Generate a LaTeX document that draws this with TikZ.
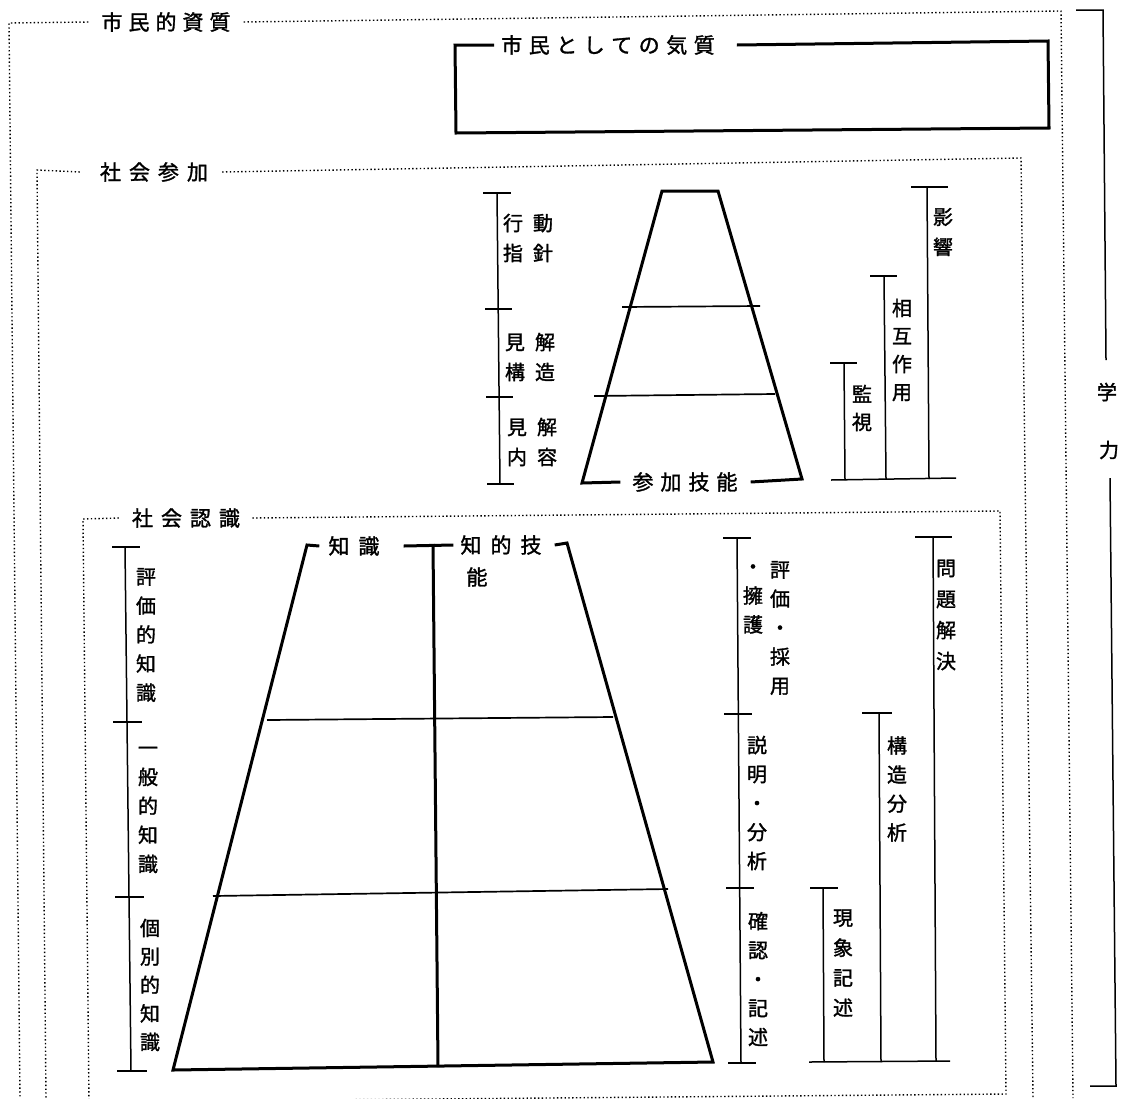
\documentclass[tikz,border=0pt]{standalone}
\usepackage{fontspec}
\setmainfont{Noto Sans CJK JP}[FakeBold=1.5]
\begin{document}
\begin{tikzpicture}[x=1pt,y=-1pt,
  pyr/.style={line width=3pt, line join=miter},
  brk/.style={line width=1.5pt},
  sepl/.style={line width=1.7pt},
  dotl/.style={line width=1.4pt, dash pattern=on 1.4pt off 2.4pt},
  ttl/.style={font=\fontsize{21}{24}\selectfont, inner sep=0pt},
  vlab/.style={font=\fontsize{20}{29}\selectfont, align=center, inner sep=0pt},
]
\useasboundingbox (0,0) rectangle (1131,1098);

% ---------- dotted frames ----------
\node[ttl] (t1) at (166,22) {市\hspace{6pt}民\hspace{6pt}的\hspace{6pt}資\hspace{6pt}質};
\draw[dotl] ([xshift=-13pt]t1.west) -- (9,23) -- (20,1098);
\draw[dotl] ([xshift=13pt]t1.east) -- (1061,11) -- (1073,1098);

\node[ttl] (t2) at (154,172) {社\hspace{8pt}会\hspace{8pt}参\hspace{8pt}加};
\draw[dotl] ([xshift=-20pt]t2.west) -- (37,170) -- (46,1098);
\draw[dotl] ([xshift=14pt]t2.east) -- (1021,158) -- (1033,1098);

\node[ttl] (t3) at (186,518) {社\hspace{8pt}会\hspace{8pt}認\hspace{8pt}識};
\draw[dotl] ([xshift=-13pt]t3.west) -- (83,519) -- (89,1102) -- (1006,1094) -- (1000,511) -- ([xshift=12pt]t3.east);

% ---------- 市民としての気質 ----------
\node[ttl] (t4) at (608,45) {市\hspace{6.5pt}民\hspace{6.5pt}と\hspace{6.5pt}し\hspace{6.5pt}て\hspace{6.5pt}の\hspace{6.5pt}気\hspace{6.5pt}質};
\draw[pyr] ([xshift=-7pt]t4.west) -- (455,45) -- (456,133) -- (1049,128) -- (1048,41) -- ([xshift=22pt]t4.east);

% ---------- 学力 ----------
\node[ttl, font=\fontsize{20}{24}\selectfont] (g1) at (1107,392) {学};
\node[ttl, font=\fontsize{20}{24}\selectfont] (g2) at (1109,450) {力};
\draw[brk] (1076,10) -- (1103,10) -- (1106,360);
\draw[brk] (1110,478) -- (1116,1086) -- (1090,1086);

% ---------- 社会参加 pyramid ----------
\node[ttl] (sk) at (685,482) {参\hspace{7pt}加\hspace{7pt}技\hspace{7pt}能};
\draw[pyr] ([xshift=-12pt]sk.west) -- (582,483) -- (662,191) -- (718,191) -- (802,479) -- ([xshift=13pt]sk.east);
\draw[sepl] (622,307) -- (760,306);
\draw[sepl] (594,396) -- (775,394);

% left bracket
\draw[brk] (497,193) -- (500,484);
\draw[brk] (483,193) -- (511,193);
\draw[brk] (485,309) -- (512,309);
\draw[brk] (486,397) -- (513,397);
\draw[brk] (487,484) -- (514,484);
\node[vlab, font=\fontsize{20}{30}\selectfont] (a1) at (528,238) {行\hspace{10pt}動\\指\hspace{10pt}針};
\node[vlab, font=\fontsize{20}{30}\selectfont] (a2) at (530,357) {見\hspace{10pt}解\\構\hspace{10pt}造};
\node[vlab, font=\fontsize{20}{30}\selectfont] (a3) at (532,442) {見\hspace{10pt}解\\内\hspace{10pt}容};

% right brackets
\draw[brk] (831,480) -- (956,478);
\draw[brk] (830,363) -- (857,363);
\draw[brk] (844,363) -- (845,480);
\draw[brk] (870,276) -- (897,276);
\draw[brk] (884,276) -- (886,479);
\draw[brk] (911,187) -- (948,187);
\draw[brk] (927,187) -- (929,479);
\node[vlab, font=\fontsize{20}{28}\selectfont] (b1) at (862,408) {監\\視};
\node[vlab, font=\fontsize{20}{28}\selectfont] (b2) at (902,350) {相\\互\\作\\用};
\node[vlab, font=\fontsize{20}{30}\selectfont] (b3) at (943,232) {影\\響};

% ---------- 社会認識 pyramid ----------
\node[ttl] (kn) at (354,546) {知\hspace{9pt}識};
\node[ttl] (ks) at (501,545) {知\hspace{9pt}的\hspace{9pt}技};
\node[ttl] (ks2) at (477,577) {能};
\draw[pyr] ([xshift=-9pt]kn.west) -- (307,545) -- (173,1070) -- (713,1062) -- (567,543) -- ([xshift=13pt]ks.east);
\draw[pyr] ([xshift=24pt]kn.east) -- ([xshift=-7pt]ks.west);
\draw[pyr] (433,544) -- (438,1067);
\draw[sepl] (267,720) -- (613,717);
\draw[sepl] (213,896) -- (668,889);

% left bracket
\draw[brk] (125,547) -- (131,1071);
\draw[brk] (112,547) -- (140,547);
\draw[brk] (113,722) -- (142,722);
\draw[brk] (115,897) -- (144,897);
\draw[brk] (117,1071) -- (147,1071);
\node[vlab] (c1) at (146,635) {評\\価\\的\\知\\識};
\node[vlab] (c2) at (148,810) {一\\般\\的\\知\\識};
\node[vlab, font=\fontsize{20}{28.5}\selectfont] (c3) at (150,985) {個\\別\\的\\知\\識};

% right bracket (skills)
\draw[brk] (737,538) -- (741,1063);
\draw[brk] (723,538) -- (751,538);
\draw[brk] (724,714) -- (752,714);
\draw[brk] (726,888) -- (754,888);
\draw[brk] (728,1063) -- (756,1063);
\node[vlab] (d1) at (780,628) {評\\価\\・\\採\\用};
\node[vlab] (d2) at (753,599) {・\\擁\\護};
\node[vlab] (d3) at (757,803) {説\\明\\・\\分\\析};
\node[vlab] (d4) at (758,979) {確\\認\\・\\記\\述};

% right brackets (thinking)
\draw[brk] (809,1062) -- (950,1061);
\draw[brk] (810,888) -- (838,888);
\draw[brk] (823,888) -- (824,1062);
\draw[brk] (862,713) -- (892,713);
\draw[brk] (879,713) -- (881,1062);
\draw[brk] (915,537) -- (952,537);
\draw[brk] (933,537) -- (936,1061);
\node[vlab, font=\fontsize{20}{30}\selectfont] (e1) at (843,963) {現\\象\\記\\述};
\node[vlab] (e2) at (897,789) {構\\造\\分\\析};
\node[vlab, font=\fontsize{20}{31}\selectfont] (e3) at (946,615) {問\\題\\解\\決};
\end{tikzpicture}
\end{document}
